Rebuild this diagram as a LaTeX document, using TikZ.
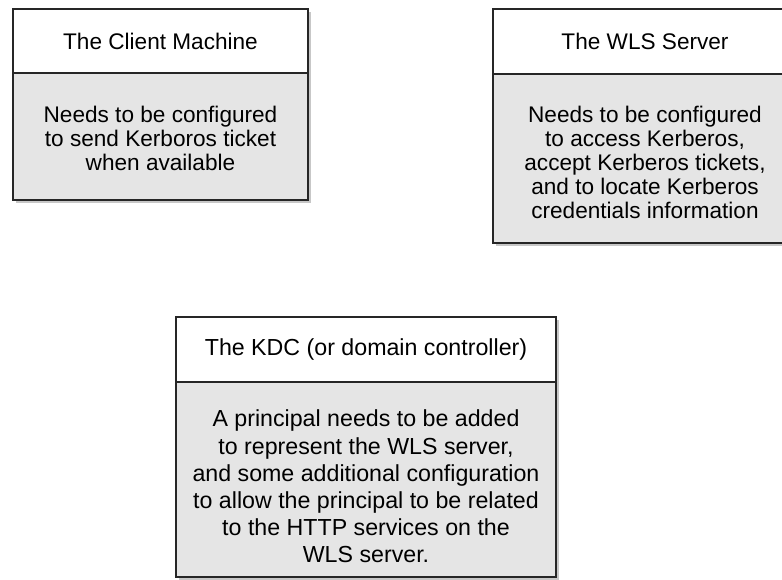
\documentclass[tikz,border=0pt]{standalone}
\usepackage{fontspec}
\setmainfont{Liberation Sans}
\usetikzlibrary{positioning,shadows}

\begin{document}
\begin{tikzpicture}[x=0.5pt,y=-0.5pt,
    box/.style={draw=black!85, line width=1.1pt, outer sep=0pt, inner sep=0pt,
      align=center, font=\fontsize{11.3}{12}\selectfont,
      drop shadow={shadow xshift=1.6pt, shadow yshift=-1.6pt, fill=black!22, opacity=1}},
    head/.style={box, fill=white},
    body/.style={box, fill=black!10},
    bodytext/.style={inner sep=0pt, align=center, font=\fontsize{11.3}{12}\selectfont},
    bigtext/.style={bodytext, font=\fontsize{11.6}{13.6}\selectfont}]
  \useasboundingbox (0,0) rectangle (782,579);
  \clip (0,0) rectangle (782,579);

  % client side
  \node[head, anchor=north west, minimum width=147.5pt, minimum height=32pt]
    (clientHead) at (13,9) {The Client Machine};
  \node[body, below=0pt of clientHead, minimum width=147.5pt, minimum height=63.5pt]
    (clientBody) {};
  \node[bodytext] (clientText) at ([yshift=-0.8pt]clientBody.center)
    {Needs to be configured\\to send Kerboros ticket\\when available};

  % server side
  \node[head, anchor=north west, minimum width=152pt, minimum height=32.5pt]
    (serverHead) at (493,9) {The WLS Server};
  \node[body, below=0pt of serverHead, minimum width=152pt, minimum height=84.5pt]
    (serverBody) {};
  \node[bodytext] (serverText) at ([yshift=-2pt]serverBody.center)
    {Needs to be configured\\to access Kerberos,\\accept Kerberos tickets,\\and to locate Kerberos\\credentials information};

  % KDC
  \node[head, anchor=north west, minimum width=190pt, minimum height=32.5pt,
    font=\fontsize{11.6}{13.6}\selectfont]
    (kdcHead) at (176,317) {The KDC (or domain controller)};
  \node[body, below=0pt of kdcHead, minimum width=190pt, minimum height=97.5pt]
    (kdcBody) {};
  \node[bigtext] (kdcText) at ([yshift=-3.5pt]kdcBody.center)
    {A principal needs to be added\\to represent the WLS server,\\and some additional configuration\\to allow the principal to be related\\to the HTTP services on the\\WLS server.};
\end{tikzpicture}
\end{document}
